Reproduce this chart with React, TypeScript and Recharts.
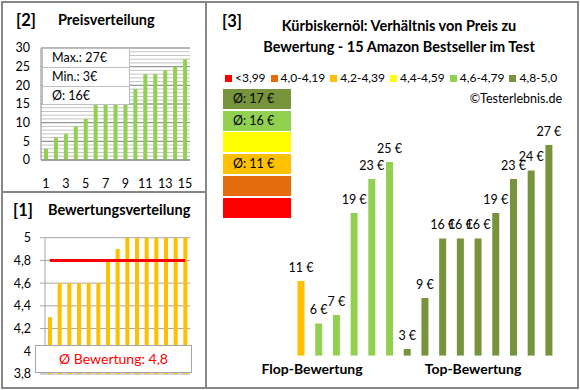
import React from 'react';
import { BarChart, Bar, XAxis, YAxis, CartesianGrid, ComposedChart, Line, Cell, LabelList } from 'recharts';

const productIndex = [1, 2, 3, 4, 5, 6, 7, 8, 9, 10, 11, 12, 13, 14, 15];
const sortedPrices = [3, 6, 7, 9, 11, 15, 15, 15, 15, 19, 23, 23, 24, 25, 27];
const sortedRatings = [4.3, 4.6, 4.6, 4.6, 4.6, 4.6, 4.8, 4.9, 5, 5, 5, 5, 5, 5, 5];
const avgRating = 4.8;
const priceStats = ['Max.: 27€', 'Min.: 3€', 'Ø: 16€'];
const priceTicks = [0, 5, 10, 15, 20, 25, 30];
const priceMinorGrid = Array.from({ length: 31 }, (_, i) => i);
const ratingTicks = [3.8, 4, 4.2, 4.4, 4.6, 4.8, 5];

const groupPrices = [11, 6, 7, 19, 23, 25, 3, 9, 16, 16, 16, 19, 23, 24, 27];
const groupClass = [2, 4, 4, 4, 4, 4, 5, 5, 5, 5, 5, 5, 5, 5, 5];
const legendLabels = ['<3,99', '4,0-4,19', '4,2-4,39', '4,4-4,59', '4,6-4,79', '4,8-5,0'];
const legendColors = ['#FF0000', '#E46C0A', '#FFC000', '#FFFF00', '#92D050', '#77933C'];
const classAverages = ['', '', 'Ø: 11 €', '', 'Ø: 16 €', 'Ø: 17 €'];
const groupLabels = ['Flop-Bewertung', 'Top-Bewertung'];

const FONT = 'Lato, "Open Sans", sans-serif';
const BORDER = '#868686';

const priceData = productIndex.map((n, i) => ({ n, price: sortedPrices[i] }));
const ratingData = productIndex.map((n, i) => ({ n, rating: sortedRatings[i], avg: avgRating }));
const groupData = groupPrices.map((p, i) => ({ n: i + 1, price: p, cls: groupClass[i] }));

const abs = (left: number, top: number, extra: React.CSSProperties = {}): React.CSSProperties => ({
  position: 'absolute',
  left,
  top,
  ...extra,
});

const gridFrom = (values: number[], domain: [number, number]) => (props: any) => {
  const s = props?.yAxis?.scale;
  if (typeof s === 'function') return values.map((v) => s(v));
  if (s && typeof s.map === 'function') return values.map((v) => s.map(v));
  const off = props?.offset || {};
  const top = off.top ?? 0;
  const h = off.height ?? 0;
  return values.map((v) => top + h - ((v - domain[0]) / (domain[1] - domain[0])) * h);
};

const PriceLabel = (props: any) => {
  const { x, y, width, value } = props;
  return (
    <text x={x + width / 2} y={y - 9} textAnchor="middle" fontSize={12.5} fontFamily={FONT} fill="#000">
      {`${value} €`}
    </text>
  );
};

export default function App() {
  return (
    <div style={{ position: 'absolute', left: 0, top: 0, width: 580, height: 390, background: '#fff', fontFamily: FONT, color: '#000' }}>
      {/* panel borders */}
      <div style={abs(1, 1, { width: 206, height: 192, border: `2px solid ${BORDER}`, boxSizing: 'border-box' })} />
      <div style={abs(1, 191, { width: 206, height: 198, border: `2px solid ${BORDER}`, boxSizing: 'border-box' })} />
      <div style={abs(205, 1, { width: 374, height: 388, border: `2px solid ${BORDER}`, boxSizing: 'border-box' })} />

      {/* Panel 2: Preisverteilung */}
      <div style={abs(16, 10, { fontSize: 16.5, fontWeight: 700, lineHeight: '20px' })}>[2]</div>
      <div style={abs(58, 10, { fontSize: 14.5, fontWeight: 700, lineHeight: '20px' })}>Preisverteilung</div>
      <div style={abs(0, 0)}>
        <BarChart width={205} height={192} data={priceData} margin={{ top: 48, right: 15, bottom: 0, left: 0 }}>
          <CartesianGrid vertical={false} horizontalCoordinatesGenerator={gridFrom(priceMinorGrid, [0, 30])} stroke="#C4C4C4" />
          <CartesianGrid vertical={false} horizontalCoordinatesGenerator={gridFrom(priceTicks, [0, 30])} stroke="#8C8C8C" />
          <XAxis dataKey="n" height={32} interval={1} tickLine={false} tickSize={6} tickMargin={13}
            axisLine={{ stroke: '#8C8C8C' }} tick={{ fontSize: 12.5, fill: '#000', fontFamily: FONT }} />
          <YAxis width={41} domain={[0, 30]} ticks={priceTicks} interval={0} tickLine={false} tickSize={0} tickMargin={11}
            axisLine={{ stroke: '#8C8C8C' }} tick={{ fontSize: 12.5, fill: '#000', fontFamily: FONT }} />
          <Bar dataKey="price" fill="#92D050" barSize={4} isAnimationActive={false} />
        </BarChart>
      </div>
      <div style={abs(42, 48, { width: 88, background: '#fff', border: '1px solid #BFBFBF', boxSizing: 'border-box' })}>
        {priceStats.map((s, i) => (
          <div key={s} style={{ height: i < 2 ? 18 : 17, lineHeight: '18px', fontSize: 12.5, paddingLeft: 9, borderBottom: i < 2 ? '1px solid #BFBFBF' : 'none' }}>{s}</div>
        ))}
      </div>

      {/* Panel 1: Bewertungsverteilung */}
      <div style={abs(13, 200, { fontSize: 16.5, fontWeight: 700, lineHeight: '20px' })}>[1]</div>
      <div style={abs(48, 200, { fontSize: 14.5, fontWeight: 700, lineHeight: '20px' })}>Bewertungsverteilung</div>
      <div style={abs(0, 192)}>
        <ComposedChart width={205} height={196} data={ratingData} margin={{ top: 45.7, right: 15, bottom: 14, left: 0 }}>
          <CartesianGrid vertical={false} stroke="#A6A6A6" />
          <XAxis dataKey="n" hide />
          <YAxis width={45} domain={[3.8, 5]} ticks={ratingTicks} interval={0} allowDataOverflow tickSize={5} tickMargin={9}
            tickLine={{ stroke: '#A6A6A6' }} axisLine={{ stroke: '#A6A6A6' }}
            tickFormatter={(v: number) => String(v).replace('.', ',')}
            tick={{ fontSize: 12.5, fill: '#000', fontFamily: FONT }} />
          <Bar dataKey="rating" fill="#FFC000" barSize={4} isAnimationActive={false} />
          <Line dataKey="avg" stroke="#FF0000" strokeWidth={3} dot={false} isAnimationActive={false} />
        </ComposedChart>
      </div>
      <div style={abs(35, 345, { width: 157, height: 28, background: '#fff', border: '1px solid #A6A6A6', boxSizing: 'border-box',
        color: '#FF0000', fontSize: 14, lineHeight: '26px', textAlign: 'center' })}>
        {`Ø Bewertung: ${String(avgRating).replace('.', ',')}`}
      </div>

      {/* Panel 3 */}
      <div style={abs(222, 11, { fontSize: 16.5, fontWeight: 700, lineHeight: '20px' })}>[3]</div>
      <div style={abs(249, 16, { width: 300, textAlign: 'center', fontSize: 14.5, fontWeight: 700, lineHeight: '20.5px' })}>
        Kürbiskernöl: Verhältnis von Preis zu<br />Bewertung - 15 Amazon Bestseller im Test
      </div>
      <div style={abs(225, 70, { display: 'flex', alignItems: 'center', fontSize: 12, lineHeight: '16px', whiteSpace: 'nowrap' })}>
        {legendLabels.map((l, i) => (
          <div key={l} style={{ display: 'flex', alignItems: 'center', marginRight: 5 }}>
            <span style={{ display: 'inline-block', width: 7, height: 7, background: legendColors[i], marginRight: 3 }} />
            <span>{l}</span>
          </div>
        ))}
      </div>
      <div style={abs(362, 90, { width: 200, textAlign: 'right', fontSize: 12.5, lineHeight: '18px' })}>©Testerlebnis.de</div>
      {[5, 4, 3, 2, 1, 0].map((c, row) => (
        <div key={c} style={abs(223, 89 + row * 21.7, { width: 68, height: 20, background: legendColors[c], fontSize: 12.5, lineHeight: '20px', paddingLeft: 10, boxSizing: 'border-box' })}>
          {classAverages[c]}
        </div>
      ))}
      <div style={abs(205, 0)}>
        <BarChart width={374} height={388} data={groupData} margin={{ top: 119.4, right: 20.9, bottom: 32.3, left: 87.5 }}>
          <XAxis dataKey="n" hide />
          <YAxis hide domain={[2.2, 30]} allowDataOverflow />
          <Bar dataKey="price" barSize={7} isAnimationActive={false}>
            {groupData.map((d) => (
              <Cell key={d.n} fill={legendColors[d.cls]} />
            ))}
            <LabelList dataKey="price" content={PriceLabel} />
          </Bar>
        </BarChart>
      </div>
      <div style={abs(257, 360, { width: 110, textAlign: 'center', fontSize: 14, fontWeight: 700, lineHeight: '18px' })}>{groupLabels[0]}</div>
      <div style={abs(418, 360, { width: 110, textAlign: 'center', fontSize: 14, fontWeight: 700, lineHeight: '18px' })}>{groupLabels[1]}</div>
    </div>
  );
}
